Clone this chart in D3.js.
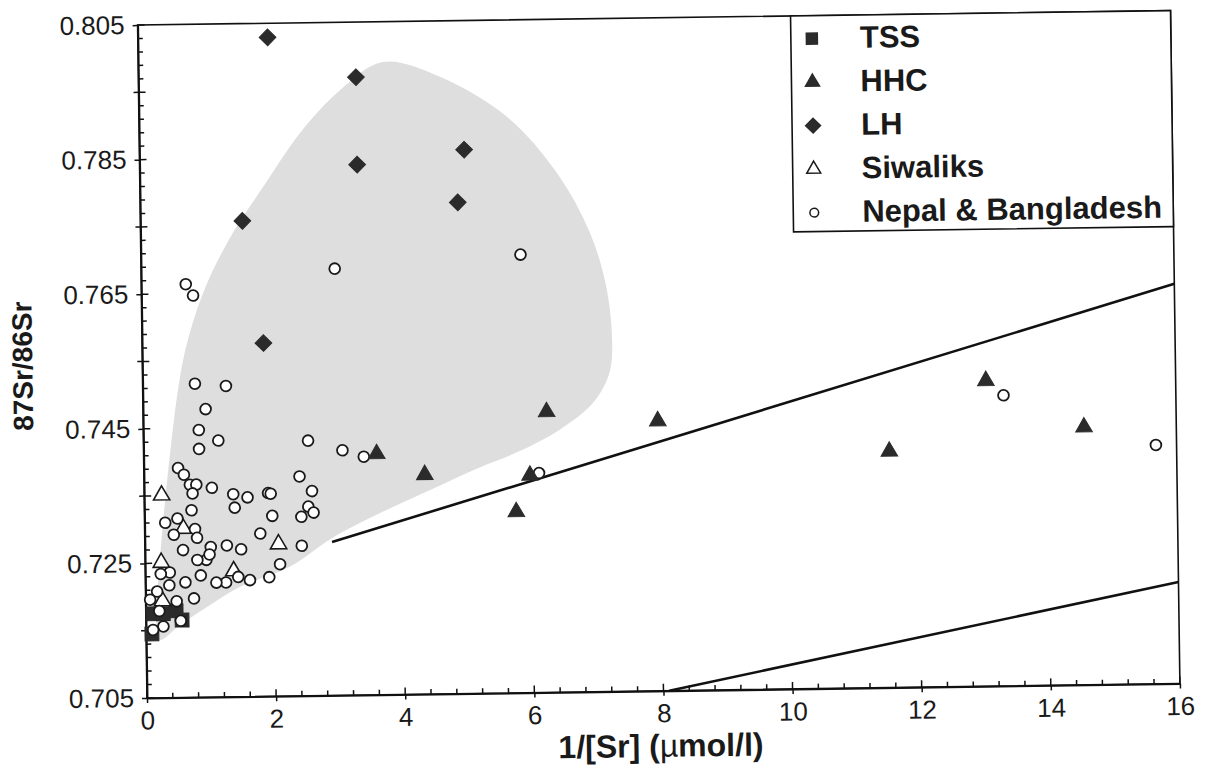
<!DOCTYPE html>
<html>
<head>
<meta charset="utf-8">
<script src="https://cdn.jsdelivr.net/npm/d3@7"></script>
<style>
  html, body { margin: 0; padding: 0; background: #ffffff; }
  svg { display: block; }
  text { font-family: "Liberation Sans", Arial, Helvetica, sans-serif; fill: #1a1a1a; }
</style>
</head>
<body>
<svg id="chart" width="1213" height="769"></svg>
<script>
// ---------------- data ----------------
const xTickValues = [0, 2, 4, 6, 8, 10, 12, 14, 16];
const yTickValues = [0.705, 0.725, 0.745, 0.765, 0.785, 0.805];

const tssX = [0.09, 0.11, 0.27, 0.47, 0.56];
const tssY = [0.7145, 0.7175, 0.7175, 0.7179, 0.7165];

const hhcX = [3.61, 4.35, 6.25, 5.98, 5.76, 7.97, 11.55, 13.06, 14.57];
const hhcY = [0.7408, 0.7376, 0.7467, 0.7373, 0.7319, 0.7451, 0.7401, 0.7504, 0.7433];

const lhX = [2.01, 3.37, 3.37, 5.03, 4.92, 1.58, 1.88];
const lhY = [0.8029, 0.7968, 0.7838, 0.7858, 0.7780, 0.7757, 0.7575];

const siwX = [0.27, 0.60, 2.07, 0.25, 1.37, 0.26];
const siwY = [0.7351, 0.7301, 0.7276, 0.7251, 0.7237, 0.7194];

const nbX = [0.69, 0.80, 3.00, 5.88, 0.81, 1.29, 0.97, 0.86, 1.16, 0.86,
             2.55, 3.08, 3.41, 0.53, 0.62, 0.71, 0.81, 0.75, 1.05, 1.38,
             1.40, 1.60, 1.92, 1.96, 2.41, 2.60, 2.54, 2.62, 2.43, 1.98,
             0.73, 0.32, 0.51, 0.78, 0.45, 0.81, 0.59, 1.02, 1.27, 1.49,
             1.79, 2.43, 2.09, 1.92, 1.62, 1.44, 1.25, 1.10, 0.86, 0.95,
             0.81, 1.00, 0.62, 0.38, 0.24, 0.37, 0.18, 0.75, 0.48, 0.07,
             0.21, 0.54, 0.27, 0.11, 6.12, 13.33, 15.68];
const nbY = [0.7664, 0.7647, 0.7684, 0.7701, 0.7516, 0.7512, 0.7478, 0.7447, 0.7431, 0.7419,
             0.7429, 0.7414, 0.7404, 0.7391, 0.7381, 0.7366, 0.7366, 0.7353, 0.7361, 0.7351,
             0.7331, 0.7346, 0.7352, 0.7351, 0.7376, 0.7354, 0.7331, 0.7322, 0.7316, 0.7318,
             0.7328, 0.7310, 0.7316, 0.7300, 0.7292, 0.7287, 0.7269, 0.7273, 0.7275, 0.7269,
             0.7292, 0.7273, 0.7246, 0.7227, 0.7223, 0.7228, 0.7220, 0.7220, 0.7231, 0.7254,
             0.7254, 0.7262, 0.7221, 0.7236, 0.7234, 0.7217, 0.7208, 0.7197, 0.7193, 0.7196,
             0.7179, 0.7164, 0.7156, 0.7151, 0.7376, 0.7482, 0.7405];

// shaded field outline
const fieldX = [3.79, 4.67, 5.70, 6.46, 6.96, 7.21, 7.28, 7.22, 6.98, 6.45, 5.80, 5.21, 4.43,
                3.65, 2.92, 2.24, 1.46, 0.95, 0.53, 0.21, 0.16, 0.23, 0.36, 0.58, 0.74,
                1.02, 1.43, 1.91, 2.49, 3.12];
const fieldY = [0.7990, 0.7967, 0.7906, 0.7822, 0.7732, 0.7647, 0.7557, 0.7520, 0.7480, 0.7440,
                0.7408, 0.7386, 0.7353, 0.7320, 0.7285, 0.7242, 0.7213, 0.7184, 0.7158, 0.7136,
                0.7166, 0.7255, 0.7373, 0.7526, 0.7591, 0.7665, 0.7739, 0.7807, 0.7886, 0.7949];

// mixing lines
const line1X = [2.90, 16];
const line1Y = [0.7278, 0.7644];
const line2X = [8.09, 16];
const line2Y = [0.705, 0.7201];

const legendLabels = ["TSS", "HHC", "LH", "Siwaliks", "Nepal & Bangladesh"];

// ---------------- drawing ----------------
(function () {
const svg = d3.select("#chart");
svg.append("rect").attr("width", 1213).attr("height", 769).attr("fill", "#ffffff");

const mLeft = 147, mRight = 1180, mTop = 25, mBottom = 698;
const x = d3.scaleLinear().domain([0, 16]).range([mLeft, mRight]);
const y = d3.scaleLinear().domain([0.705, 0.805]).range([mBottom, mTop]);

// the scanned figure is slightly tilted
const g = svg.append("g").attr("transform", `rotate(-0.8, ${mLeft}, ${mBottom})`);

// shaded field
const fieldPts = fieldX.map((v, i) => [x(v), y(fieldY[i])]);
g.append("path")
  .attr("d", d3.line().curve(d3.curveCatmullRomClosed.alpha(0.5))(fieldPts))
  .attr("fill", "#dedede")
  .attr("stroke", "none");

// frame
g.append("rect")
  .attr("x", mLeft).attr("y", mTop)
  .attr("width", mRight - mLeft).attr("height", mBottom - mTop)
  .attr("fill", "none").attr("stroke", "#111").attr("stroke-width", 1.6);

// axes with labels
const yAxis = d3.axisLeft(y).tickValues(yTickValues).tickFormat(d3.format(".3f"))
  .tickSizeInner(5).tickSizeOuter(0).tickPadding(8);
const gy = g.append("g").attr("transform", `translate(${mLeft},0)`).call(yAxis);
gy.select(".domain").attr("stroke", "#111").attr("stroke-width", 2);
gy.selectAll(".tick line").attr("stroke", "#111").attr("stroke-width", 1.5);
gy.selectAll(".tick text").attr("font-size", 26).attr("fill", "#1a1a1a")
  .attr("font-family", "'Liberation Sans', Arial, sans-serif");

const xAxis = d3.axisBottom(x).tickValues(xTickValues).tickFormat(d3.format("d"))
  .tickSizeInner(5).tickSizeOuter(0).tickPadding(8);
const gx = g.append("g").attr("transform", `translate(0,${mBottom})`).call(xAxis);
gx.select(".domain").attr("stroke", "#111").attr("stroke-width", 2);
gx.selectAll(".tick line").attr("stroke", "#111").attr("stroke-width", 1.5);
gx.selectAll(".tick text").attr("font-size", 26).attr("fill", "#1a1a1a")
  .attr("font-family", "'Liberation Sans', Arial, sans-serif");

// inner tick marks
const yMinor = d3.range(0, 51).map(i => 0.705 + i * 0.002);
g.append("g").selectAll("line").data(yMinor).join("line")
  .attr("x1", mLeft).attr("x2", (d, i) => mLeft + (i % 5 === 0 ? 7 : 5))
  .attr("y1", d => y(d)).attr("y2", d => y(d))
  .attr("stroke", "#111").attr("stroke-width", 1.5);
g.append("g").selectAll("line").data(d3.range(0, 11).map(i => 0.705 + i * 0.01).filter((d, i) => i % 2 === 1)).join("line")
  .attr("x1", mLeft - 5).attr("x2", mLeft)
  .attr("y1", d => y(d)).attr("y2", d => y(d))
  .attr("stroke", "#111").attr("stroke-width", 1.5);

const xMinor = d3.range(0, 41).map(i => i * 0.4);
g.append("g").selectAll("line").data(xMinor).join("line")
  .attr("x1", d => x(d)).attr("x2", d => x(d))
  .attr("y1", mBottom).attr("y2", (d, i) => mBottom - (i % 5 === 0 ? 7 : 5))
  .attr("stroke", "#111").attr("stroke-width", 1.5);

// axis titles
g.append("text")
  .attr("x", x(7.95)).attr("y", mBottom + 66)
  .attr("text-anchor", "middle")
  .attr("font-size", 32).attr("font-weight", "bold")
  .html('1/[Sr] (<tspan font-weight="normal">\u00b5</tspan>mol/l)');

g.append("text")
  .attr("transform", `translate(37, ${y(0.755) + 3}) rotate(-90)`)
  .attr("text-anchor", "middle")
  .attr("font-size", 28).attr("font-weight", "bold")
  .text("87Sr/86Sr");

// mixing lines
[[line1X, line1Y], [line2X, line2Y]].forEach(([lx, ly]) => {
  g.append("path")
    .attr("d", d3.line()(lx.map((v, i) => [x(v), y(ly[i])])))
    .attr("stroke", "#111").attr("stroke-width", 2.6).attr("fill", "none");
});

const dark = "#2b2b2b";
const sym = (type, size) => d3.symbol().type(type).size(size)();

// TSS squares
g.append("g").selectAll("path").data(tssX).join("path")
  .attr("d", sym(d3.symbolSquare, 190))
  .attr("transform", (d, i) => `translate(${x(d)},${y(tssY[i])})`)
  .attr("fill", dark).attr("stroke", dark).attr("stroke-width", 1);

// Siwaliks open triangles
g.append("g").selectAll("path").data(siwX).join("path")
  .attr("d", sym(d3.symbolTriangle, 115))
  .attr("transform", (d, i) => `translate(${x(d)},${y(siwY[i])})`)
  .attr("fill", "#ffffff").attr("stroke", "#1a1a1a").attr("stroke-width", 1.6);

// Nepal & Bangladesh open circles
g.append("g").selectAll("circle").data(nbX).join("circle")
  .attr("cx", d => x(d)).attr("cy", (d, i) => y(nbY[i])).attr("r", 5.4)
  .attr("fill", "#ffffff").attr("stroke", "#1a1a1a").attr("stroke-width", 1.8);

// HHC filled triangles
g.append("g").selectAll("path").data(hhcX).join("path")
  .attr("d", sym(d3.symbolTriangle, 120))
  .attr("transform", (d, i) => `translate(${x(d)},${y(hhcY[i])})`)
  .attr("fill", dark).attr("stroke", dark).attr("stroke-width", 1);

// LH diamonds
g.append("g").selectAll("path").data(lhX).join("path")
  .attr("d", sym(d3.symbolSquare, 140))
  .attr("transform", (d, i) => `translate(${x(d)},${y(lhY[i])}) rotate(45)`)
  .attr("fill", dark).attr("stroke", dark).attr("stroke-width", 1);

// legend
const lg = g.append("g");
lg.append("rect").attr("x", 800).attr("y", mTop).attr("width", mRight - 800).attr("height", 216)
  .attr("fill", "#ffffff").attr("stroke", "#111").attr("stroke-width", 1.6);
const rowY = d3.scalePoint().domain(legendLabels).range([48, 222]);
const legendSyms = [
  {t: d3.symbolSquare, s: 120, fill: dark, stroke: dark, rot: 0},
  {t: d3.symbolTriangle, s: 85, fill: dark, stroke: dark, rot: 0},
  {t: d3.symbolSquare, s: 110, fill: dark, stroke: dark, rot: 45},
  {t: d3.symbolTriangle, s: 85, fill: "#fff", stroke: "#1a1a1a", rot: 0},
  {t: d3.symbolCircle, s: 60, fill: "#fff", stroke: "#1a1a1a", rot: 0}
];
legendLabels.forEach((lab, i) => {
  const s = legendSyms[i];
  lg.append("path").attr("d", sym(s.t, s.s))
    .attr("transform", `translate(821,${rowY(lab)}) rotate(${s.rot})`)
    .attr("fill", s.fill).attr("stroke", s.stroke).attr("stroke-width", 1.5);
  lg.append("text").attr("x", 869).attr("y", rowY(lab) - 1).attr("dy", "0.35em")
    .attr("font-size", 31).attr("font-weight", "bold").text(lab);
});
})();
</script>
</body>
</html>
